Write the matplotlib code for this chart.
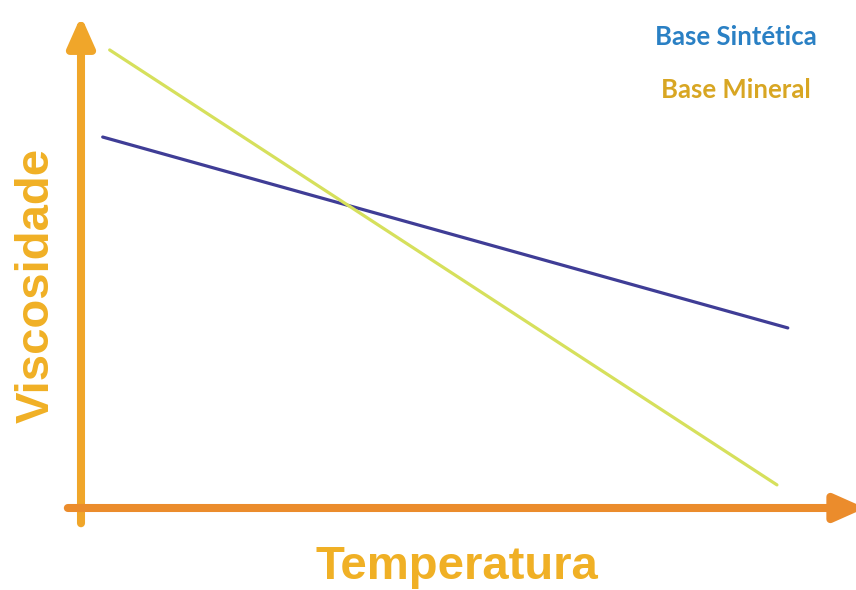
import matplotlib.pyplot as plt
import numpy as np

# dados (unidades arbitrarias, eixos de 0 a 100)
temperatura_sint = [2.8, 91.2]
viscosidade_sint = [75.4, 36.6]
temperatura_min = [3.7, 89.8]
viscosidade_min = [93.1, 4.7]

legenda = ["Base Sintética", "Base Mineral"]
cor_legenda = ["#2a80c4", "#d8a623"]
titulo_x = "Temperatura"
titulo_y = "Viscosidade"

W, H = 856, 590
fig = plt.figure(figsize=(W / 100, H / 100), dpi=100)
# area dos eixos em pixels: x 81..856, y 16..508
ax = fig.add_axes([81 / W, (H - 508) / H, 775 / W, 492 / H])
ax.set_xlim(0, 100)
ax.set_ylim(0, 100)
ax.axis("off")

ax.plot(temperatura_sint, viscosidade_sint, color="#3f3d96", lw=2.3, solid_capstyle="round")
ax.plot(temperatura_min, viscosidade_min, color="#d6e05c", lw=2.3, solid_capstyle="round")

# eixos com setas
estilo = "-|>,head_length=0.9,head_width=0.4"
ax.annotate("", xy=(0, 1.0), xytext=(0, -0.031), xycoords="axes fraction",
            arrowprops=dict(arrowstyle=estilo, lw=5.8, color="#f0a62a",
                            mutation_scale=20, shrinkA=0, shrinkB=0),
            annotation_clip=False)
ax.annotate("", xy=(1.012, 0), xytext=(-0.017, 0), xycoords="axes fraction",
            arrowprops=dict(arrowstyle=estilo, lw=5.8, color="#eb8c2c",
                            mutation_scale=20, shrinkA=0, shrinkB=0),
            annotation_clip=False)

fig.text(457 / W, 1 - 567 / H, titulo_x, ha="center", va="center",
         fontsize=34, fontweight="bold", color="#f0b025", family="Liberation Sans")
fig.text(37 / W, 1 - 285 / H, titulo_y, ha="center", va="center", rotation=90,
         fontsize=34, fontweight="bold", color="#f0b025", family="Liberation Sans")

for i, (txt, c) in enumerate(zip(legenda, cor_legenda)):
    fig.text(736 / W, 1 - (37 + 53 * i) / H, txt, ha="center", va="center",
             fontsize=18.5, fontweight="bold", color=c, family="Lato")

fig.savefig("out.png", dpi=100)
